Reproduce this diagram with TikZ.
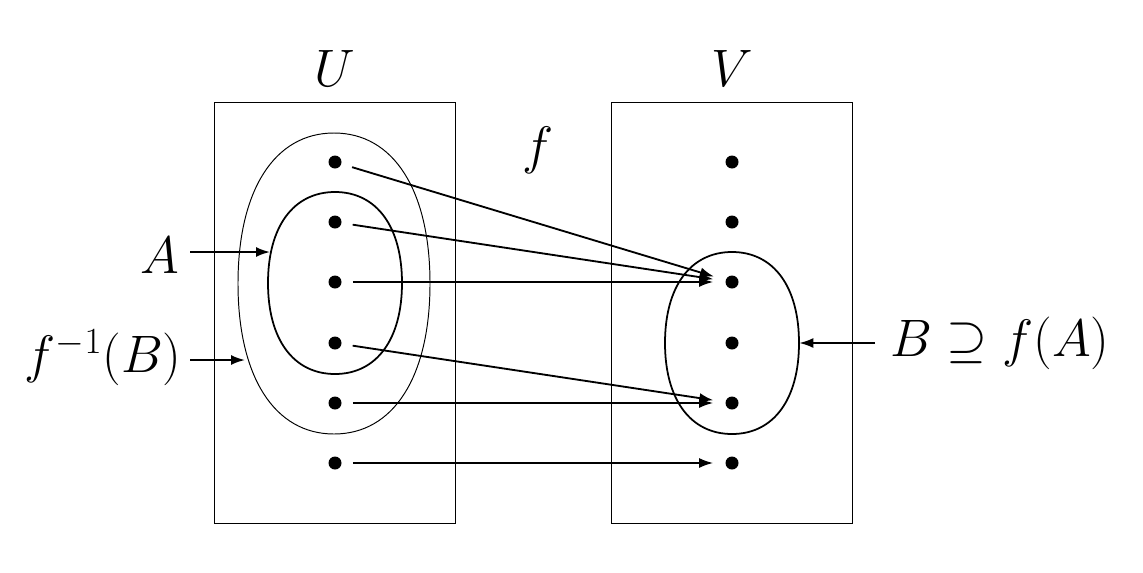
\RequirePackage{fix-cm}
\documentclass[tikz,border=0pt]{standalone}
\usetikzlibrary{shapes.geometric,arrows.meta}
\tikzset{
  lbl/.style={font=\fontsize{30}{36}\selectfont, inner sep=0pt},
  dot/.style={circle, fill=black, inner sep=0pt, minimum size=0.26cm},
  setbox/.style={draw, line width=0.5pt},
  region/.style={ellipse, inner sep=0pt},
  thickline/.style={line width=1pt},
  thinline/.style={line width=0.55pt},
  map/.style={line width=1.05pt, -{Latex[length=0.28cm,width=0.2cm]}, shorten <=0.22cm, shorten >=0.24cm},
  pointer/.style={line width=1.05pt, -{Latex[length=0.28cm,width=0.2cm]}}
}
% squarish oval: center x, center y, rx, ry, style
\newcommand\sqoval[5]{%
  \draw[#5] (#1+#3,#2) .. controls (#1+#3,#2+0.62*#4) and (#1+0.62*#3,#2+#4) .. (#1,#2+#4)
    .. controls (#1-0.62*#3,#2+#4) and (#1-#3,#2+0.62*#4) .. (#1-#3,#2)
    .. controls (#1-#3,#2-0.62*#4) and (#1-0.62*#3,#2-#4) .. (#1,#2-#4)
    .. controls (#1+0.62*#3,#2-#4) and (#1+#3,#2-0.62*#4) .. cycle;}
\begin{document}
\begin{tikzpicture}[x=0.02cm,y=-0.02cm]
\useasboundingbox (0,0) rectangle (1143,572);
% boxes
\node[setbox, minimum width=4.82cm, minimum height=8.42cm, inner sep=0pt] (Ubox) at (334.5,312.5) {};
\node[setbox, minimum width=4.82cm, minimum height=8.42cm, inner sep=0pt] (Vbox) at (731.5,312.5) {};
% set labels
\node[lbl] (U) at (335,68) {$U$};
\node[lbl] (V) at (732,68) {$V$};
\node[lbl] (f) at (538,150) {$f$};
% regions
\node[region, minimum width=3.84cm, minimum height=6.02cm] (FB) at (334,283.5) {};
\node[region, minimum width=2.68cm, minimum height=3.64cm] (A) at (335,283) {};
\node[region, minimum width=2.68cm, minimum height=3.64cm] (B) at (732,343) {};
\sqoval{334}{283.5}{96}{150.5}{thinline}
\sqoval{335}{283}{67}{91}{thickline}
\sqoval{732}{343}{67}{91}{thickline}
% dots
\foreach \i/\y in {1/162,2/222,3/282,4/343,5/403,6/463}{
  \node[dot] (u\i) at (335,\y) {};
  \node[dot] (v\i) at (732,\y) {};
}
% mapping arrows
\draw[map] (u1) -- (v3);
\draw[map] (u2) -- (v3);
\draw[map] (u3) -- (v3);
\draw[map] (u4) -- (v5);
\draw[map] (u5) -- (v5);
\draw[map] (u6) -- (v6);
% labels with pointers
\node[lbl, anchor=east] (Alab) at (180,255) {$A$};
\node[lbl, anchor=east] (FBlab) at (182,358) {$f^{-1}(B)$};
\node[lbl, anchor=west] (Blab) at (890,343) {$B\supseteq f(A)$};
\coordinate (Aend) at (270,252);
\coordinate (FBend) at (245,360);
\draw[pointer] (190,252) -- (Aend);
\draw[pointer] (190,360) -- (FBend);
\draw[pointer] (875,343) -- (B.east);
\end{tikzpicture}
\end{document}
